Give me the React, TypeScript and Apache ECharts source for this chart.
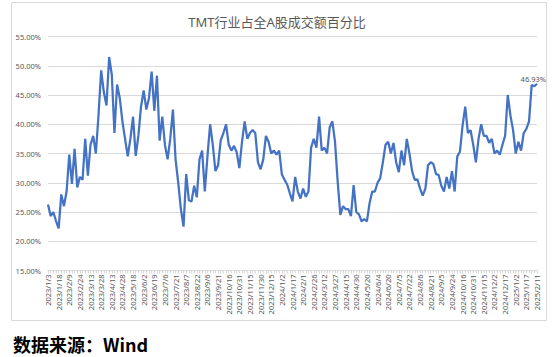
import React, { useEffect, useRef } from 'react';
import * as echarts from 'echarts';

// Tick labels (every 11 trading days)
const labels2023 = [
  '2023/1/3', '2023/1/18', '2023/2/9', '2023/2/24', '2023/3/13', '2023/3/28',
  '2023/4/13', '2023/4/28', '2023/5/18', '2023/6/2', '2023/6/19', '2023/7/6',
  '2023/7/21', '2023/8/7', '2023/8/22', '2023/9/6', '2023/9/21', '2023/10/16',
  '2023/10/31', '2023/11/15', '2023/11/30', '2023/12/15',
];
const labels2024 = [
  '2024/1/2', '2024/1/17', '2024/2/1', '2024/2/26', '2024/3/12', '2024/3/27',
  '2024/4/15', '2024/4/30', '2024/5/20', '2024/6/4', '2024/6/20', '2024/7/5',
  '2024/7/22', '2024/8/6', '2024/8/21', '2024/9/5', '2024/9/24', '2024/10/16',
  '2024/10/31', '2024/11/15', '2024/12/2', '2024/12/17',
];
const labels2025 = ['2025/1/2', '2025/1/17', '2025/2/11'];

// Share of TMT turnover in all A-share turnover (%), sampled 4 points per tick interval
const values2023 = [
  26.3, 24.3, 25, 23.5, 22.2, 28, 26, 28.5, 34.8, 29.8, 35.8, 29.2,
  31, 30.5, 37.5, 31.2, 36.5, 38, 35, 41.5, 49.2, 45.5, 43.2, 51.5,
  48.5, 38.5, 46.8, 44.5, 40.5, 37.5, 34.5, 37.5, 41.3, 34.6, 38, 43,
  45.8, 42.5, 44.5, 49, 42.3, 48.3, 37.2, 41.3, 36.5, 34, 37.5, 42.5,
  34, 30, 25.5, 22.5, 31.5, 27, 26.8, 29.5, 27.5, 34, 35.5, 28.5,
  34.5, 40, 36.5, 32, 33, 37.3, 38.5, 40, 36.5, 35.5, 36.3, 35.2,
  32.5, 37, 40.5, 37.5, 38.5, 39, 38.5, 33.5, 32.3, 34, 38, 37,
  35, 35.5, 34.8, 35.5,
];
const values2024 = [
  31.4, 30.5, 29.7, 28.2, 26.8, 31, 28.5, 27.3, 29, 27.6, 28.5, 36,
  37.5, 36, 41.3, 35.5, 36, 35, 39.5, 40.5, 37, 30.2, 24.5, 26,
  25.5, 25.5, 24.3, 29.6, 25, 24.6, 23.4, 23.8, 23.4, 26.5, 28.5, 28.5,
  30, 30.8, 33.5, 36.5, 37, 35, 36.8, 33.5, 31.8, 35.5, 33, 37.5,
  35, 32, 30.5, 30.6, 29, 27.8, 29, 33, 33.5, 33.2, 31.5, 31.3,
  29.5, 28.5, 31, 29, 32, 28.5, 34.5, 35.3, 39.8, 43, 38.5, 39,
  36.5, 33.5, 37.5, 40, 38, 38, 36.8, 37.5, 35, 35.5, 34.8, 36.5,
  38, 45, 41.5, 39,
];
const values2025 = [35, 37, 35.5, 38.5, 39.2, 40.5, 46.7, 46.5, 46.93];

const POINTS_PER_TICK = 4;

export default function App() {
  const ref = useRef<HTMLDivElement>(null);

  useEffect(() => {
    document.body.style.margin = '0';
    const chart = echarts.init(ref.current as HTMLDivElement, null, { renderer: 'svg' });
    const tickLabels = [...labels2023, ...labels2024, ...labels2025];
    const values = [...values2023, ...values2024, ...values2025];
    const categories = values.map((_, i) =>
      i % POINTS_PER_TICK === 0 ? tickLabels[i / POINTS_PER_TICK] ?? '' : ''
    );
    const font = '"Noto Sans", "Noto Sans CJK SC", sans-serif';

    chart.setOption({
      animation: false,
      backgroundColor: '#ffffff',
      title: {
        text: 'TMT行业占全A股成交额百分比',
        left: 'center',
        top: 10,
        textStyle: { fontSize: 13, fontWeight: 'normal', color: '#595959', fontFamily: font },
      },
      grid: { left: 48, right: 17, top: 36.5, bottom: 86.5 },
      xAxis: {
        type: 'category',
        data: categories,
        boundaryGap: false,
        axisLine: { show: true, lineStyle: { color: '#d9d9d9', width: 1 } },
        axisTick: { show: true, interval: 0, length: 3, lineStyle: { color: '#d9d9d9' } },
        axisLabel: {
          interval: POINTS_PER_TICK - 1,
          rotate: 90,
          fontSize: 7.5,
          color: '#595959',
          margin: 4,
          fontFamily: font,
        },
        splitLine: { show: false },
      },
      yAxis: {
        type: 'value',
        min: 15,
        max: 55,
        interval: 5,
        axisLine: { show: false },
        axisTick: { show: false },
        axisLabel: {
          formatter: (v: number) => v.toFixed(2) + '%',
          fontSize: 7.5,
          color: '#595959',
          margin: 7,
          fontFamily: font,
        },
        splitLine: { lineStyle: { color: '#d9d9d9', width: 1 } },
      },
      series: [
        {
          type: 'line',
          data: values,
          showSymbol: false,
          lineStyle: { color: '#4472c4', width: 2.25 },
          itemStyle: { color: '#4472c4' },
          endLabel: {
            show: true,
            formatter: (p: any) => {
              const v = Array.isArray(p.value) ? p.value[p.value.length - 1] : p.value;
              return Number(v).toFixed(2) + '%';
            },
            fontSize: 7.5,
            color: '#595959',
            align: 'right',
            verticalAlign: 'bottom',
            distance: 0,
            offset: [9, -1],
            fontFamily: font,
          },
        },
      ],
      graphic: [
        {
          type: 'rect',
          shape: { x: 11.5, y: 2.5, width: 535, height: 318 },
          style: { fill: 'none', stroke: '#d9d9d9', lineWidth: 1 },
          silent: true,
        },
        {
          type: 'text',
          left: 13,
          top: 335,
          style: {
            text: '数据来源：Wind',
            font: 'bold 18px "Noto Sans CJK SC", "Noto Sans", sans-serif',
            fill: '#000000',
          },
        },
      ],
    });

    return () => {
      chart.dispose();
    };
  }, []);

  return <div ref={ref} style={{ width: 554, height: 357 }} />;
}
